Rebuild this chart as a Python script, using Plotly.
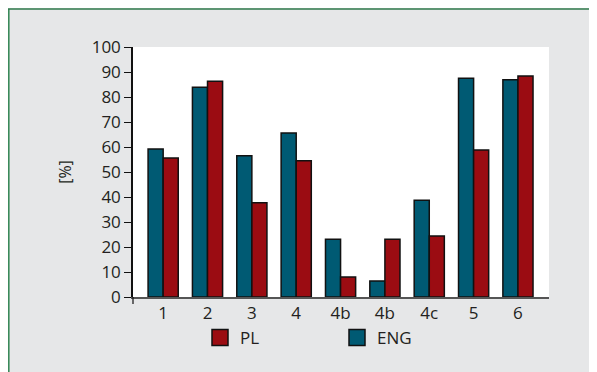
import plotly.graph_objects as go

categories = ["1", "2", "3", "4", "4b", "4b", "4c", "5", "6"]
eng_values = [59.2, 83.9, 56.5, 65.6, 23.1, 6.4, 38.7, 87.5, 86.9]
pl_values = [55.6, 86.3, 37.7, 54.5, 8.0, 23.1, 24.4, 58.8, 88.4]
y_ticks = [0, 10, 20, 30, 40, 50, 60, 70, 80, 90, 100]

positions = list(range(len(categories)))

ENG_COLOR = "#005a73"
PL_COLOR = "#9b0c12"
EDGE = "#111111"
TEXT = "#231f20"
FONT = "Open Sans, Noto Sans, sans-serif"

fig = go.Figure()
fig.add_trace(go.Bar(x=positions, y=eng_values, name="ENG", showlegend=False,
                     marker=dict(color=ENG_COLOR, line=dict(color=EDGE, width=1.5))))
fig.add_trace(go.Bar(x=positions, y=pl_values, name="PL", showlegend=False,
                     marker=dict(color=PL_COLOR, line=dict(color=EDGE, width=1.5))))
# legend entries (square swatches)
fig.add_trace(go.Scatter(x=[None], y=[None], mode="markers", name="PL",
                         marker=dict(symbol="square", size=16, color=PL_COLOR,
                                     line=dict(color=EDGE, width=1.5))))
fig.add_trace(go.Scatter(x=[None], y=[None], mode="markers", name="ENG",
                         marker=dict(symbol="square", size=16, color=ENG_COLOR,
                                     line=dict(color=EDGE, width=1.5))))

W, H = 597, 372
L, R, T, B = 125, 56, 39, 83
pw, ph = W - L - R, H - T - B

def px(x):
    return (x - L) / pw

def py(y):
    return (H - B - y) / ph

shapes = [
    # green frame lines
    dict(type="line", xref="paper", yref="paper", x0=px(0.8), x1=px(0.8), y0=py(1), y1=py(H),
         line=dict(color="#3a8a5a", width=1.6)),
    dict(type="line", xref="paper", yref="paper", x0=px(0), x1=px(W), y0=py(1), y1=py(1),
         line=dict(color="#2f7a4c", width=1.6)),
    # downward tick at axis origin
    dict(type="line", xref="paper", yref="paper", x0=0, x1=0, y0=0, y1=py(H - B + 7),
         line=dict(color=EDGE, width=1.2)),
]

fig.update_layout(
    width=W, height=H,
    margin=dict(l=L, r=R, t=T, b=B, pad=0),
    paper_bgcolor="#e6e7e8",
    plot_bgcolor="white",
    font=dict(family=FONT, color=TEXT, size=17),
    barmode="group",
    bargap=0.32,
    bargroupgap=0,
    shapes=shapes,
    showlegend=True,
    legend=dict(orientation="h", x=px(192), xanchor="left", y=py(330), yanchor="middle",
                bgcolor="rgba(0,0,0,0)", font=dict(size=17, family=FONT, color=TEXT),
                entrywidth=92, entrywidthmode="pixels", traceorder="normal",
                itemsizing="trace"),
    xaxis=dict(range=[-0.68, 8.70], tickmode="array", tickvals=positions, ticktext=categories,
               showgrid=False, zeroline=False, showline=True, linecolor="#555555", linewidth=1.5,
               ticks="", tickfont=dict(size=17)),
    yaxis=dict(range=[0, 100], tickmode="array", tickvals=y_ticks,
               showgrid=False, zeroline=False, showline=True, linecolor=EDGE, linewidth=1.5,
               ticks="outside", ticklen=7, tickcolor=EDGE, tickwidth=1.2,
               tickfont=dict(size=17),
               title=dict(text="[%]", font=dict(size=16), standoff=16)),
)

fig.write_html("out.html")
